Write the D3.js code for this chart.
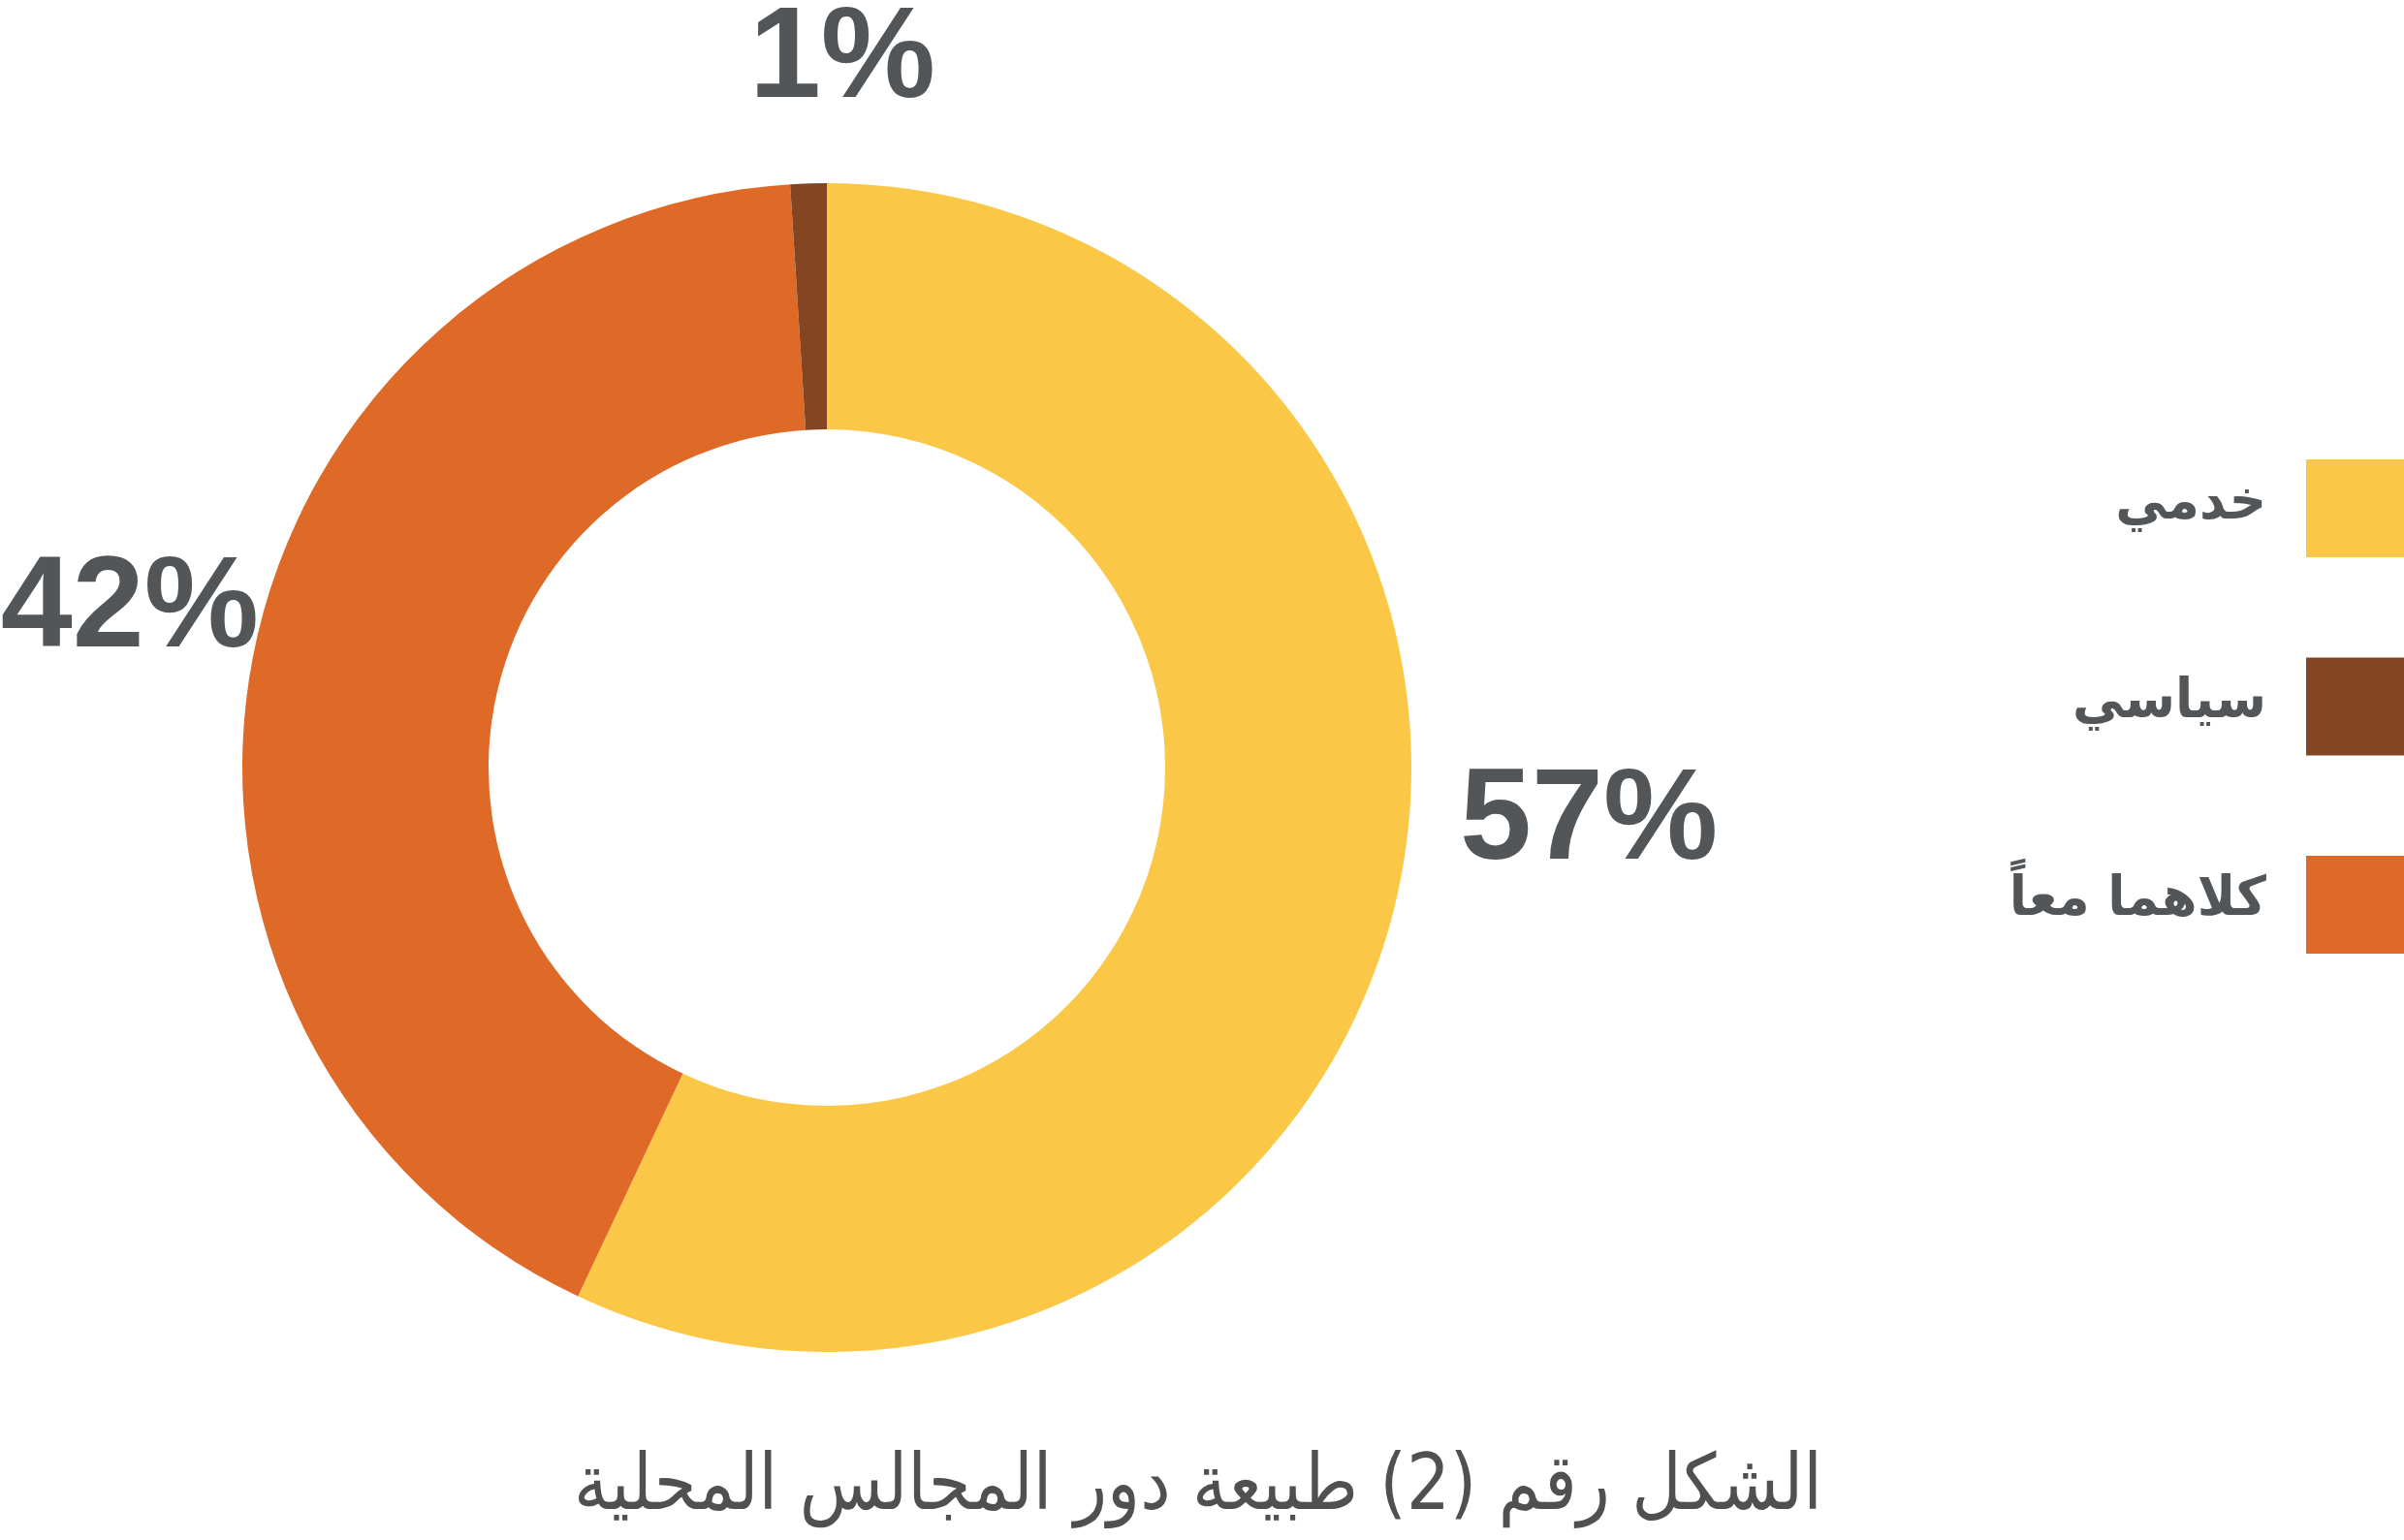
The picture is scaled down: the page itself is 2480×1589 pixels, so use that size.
<!DOCTYPE html>
<html>
<head>
<meta charset="utf-8">
<script src="https://cdn.jsdelivr.net/npm/d3@7"></script>
<style>
  html, body { margin: 0; padding: 0; background: #ffffff; }
  svg { display: block; }
</style>
</head>
<body>
<svg id="chart" width="2480" height="1589"></svg>
<script>
// ---- data ----
const categories = ["خدمي", "سياسي", "كلاهما معاً"];
const values = [57, 1, 42];
const valueLabels = ["57%", "1%", "42%"];
const colors = ["#FBC746", "#844522", "#DF6A28"];
const sliceOrder = [0, 2, 1]; // clockwise drawing order from 12 o'clock
const title = "الشكل رقم (2) طبيعة دور المجالس المحلية";

// ---- layout ----
const W = 2480, H = 1589;
const cx = 853, cy = 792;
const outerR = 603, innerR = 349;
const svg = d3.select("#chart");

const ordered = sliceOrder.map(i => ({ i, value: values[i] }));
const pie = d3.pie().sort(null).value(d => d.value);
const arcs = pie(ordered);
const arc = d3.arc().innerRadius(innerR).outerRadius(outerR);

const g = svg.append("g").attr("transform", `translate(${cx},${cy})`);
g.selectAll("path.slice")
  .data(arcs)
  .join("path")
  .attr("class", "slice")
  .attr("d", arc)
  .attr("fill", d => colors[d.data.i]);

// value labels (placed outside the ring)
const labelFont = "'Liberation Sans', Arial, Helvetica, sans-serif";
const labelPlacement = {
  0: { anchor: "start", dx: outerR + 50, dy: 94 },    // 57%
  1: { anchor: "middle", dx: 16, dy: -outerR - 89 },  // 1%
  2: { anchor: "end", dx: -outerR + 17, dy: -125 }    // 42%
};
g.selectAll("text.val")
  .data(arcs)
  .join("text")
  .attr("class", "val")
  .attr("x", d => labelPlacement[d.data.i].dx)
  .attr("y", d => labelPlacement[d.data.i].dy)
  .attr("text-anchor", d => labelPlacement[d.data.i].anchor)
  .attr("font-family", labelFont)
  .attr("font-weight", "bold")
  .attr("font-size", 133)
  .attr("fill", "#535659")
  .text(d => valueLabels[d.data.i]);

// legend
const legendY = d3.scaleBand().domain(categories).range([474, 474 + 204.5 * 3]);
const legend = svg.append("g");
const items = legend.selectAll("g.item").data(categories).join("g").attr("class", "item");
items.append("rect")
  .attr("x", 2379)
  .attr("y", d => legendY(d))
  .attr("width", 110)
  .attr("height", 101)
  .attr("fill", (d, i) => colors[i]);
items.append("text")
  .attr("transform", d => `translate(2338,${legendY(d) + 61}) scale(0.95,1)`)
  .attr("text-anchor", "end")
  .attr("font-family", "'DejaVu Sans', sans-serif")
  .attr("font-weight", "bold")
  .attr("font-size", 56)
  .attr("fill", "#535659")
  .text(d => d);

// title
const t = svg.append("text")
  .attr("x", 0)
  .attr("y", 0)
  .attr("text-anchor", "middle")
  .attr("font-family", "'DejaVu Sans', sans-serif")
  .attr("font-weight", "normal")
  .attr("font-size", 80)
  .attr("fill", "#4f5052")
  .text(title);
const bb = t.node().getBBox();
const targetW = 1288, targetCx = 1236, baseline = 1557;
const sx = targetW / bb.width;
t.attr("transform", `translate(${targetCx - (bb.x + bb.width / 2) * sx},${baseline}) scale(${sx},1)`);
</script>
</body>
</html>
